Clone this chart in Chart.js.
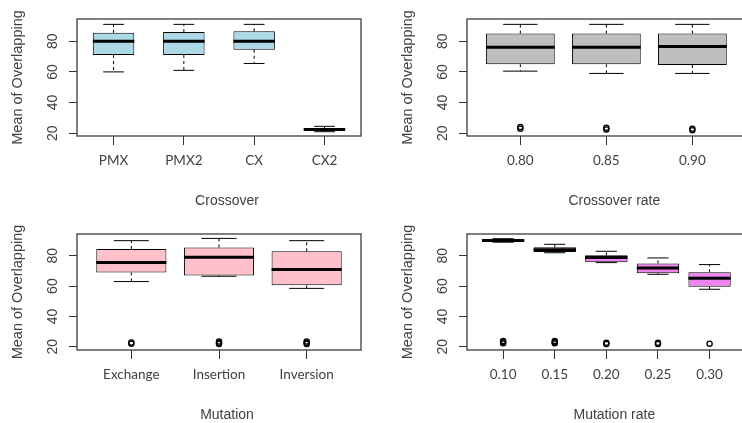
<!DOCTYPE html>
<html>
<head>
<meta charset="utf-8">
<script src="https://cdn.jsdelivr.net/npm/chart.js@4.4.1/dist/chart.umd.min.js"></script>
<style>
  html, body { margin: 0; padding: 0; background: #fff; overflow: hidden; width: 742px; height: 423px; }
  .panel { position: absolute; }
</style>
</head>
<body>
<div class="panel" style="left:0;top:0"><canvas id="chart-1" width="371" height="211"></canvas></div>
<div class="panel" style="left:371px;top:0"><canvas id="chart-2" width="380" height="211"></canvas></div>
<div class="panel" style="left:0;top:211px"><canvas id="chart-3" width="371" height="212"></canvas></div>
<div class="panel" style="left:371px;top:211px"><canvas id="chart-4" width="380" height="212"></canvas></div>
<script>
//////////////////////////////////////////////// data
// Crossover
const crossLabels = ['PMX', 'PMX2', 'CX', 'CX2'];
const crossLow  = [60, 61, 65.5, 21];
const crossQ1   = [71, 71, 74.5, 22];
const crossMed  = [80, 80, 80, 22.5];
const crossQ3   = [85.5, 86, 86.5, 23.2];
const crossHigh = [91, 91, 91, 24.5];
const crossOut  = [[], [], [], []];

// Crossover rate
const rateLabels = ['0.80', '0.85', '0.90'];
const rateLow  = [60.5, 59, 59];
const rateQ1   = [65, 65, 64.5];
const rateMed  = [76, 76, 76.5];
const rateQ3   = [85, 85, 85];
const rateHigh = [91, 91, 91];
const rateOut  = [[23, 24], [22.5, 23.5], [22, 23]];

// Mutation
const mutLabels = ['Exchange', 'Insertion', 'Inversion'];
const mutLow  = [63, 66.5, 58.5];
const mutQ1   = [69, 67, 60.5];
const mutMed  = [75.5, 79, 71];
const mutQ3   = [84.5, 85.5, 83];
const mutHigh = [90, 91.5, 90];
const mutOut  = [[22, 22.8], [21.8, 22.6, 23.4], [21.8, 22.6, 23.4]];

// Mutation rate
const mrLabels = ['0.10', '0.15', '0.20', '0.25', '0.30'];
const mrLow  = [89, 82, 75.5, 67.8, 57.9];
const mrQ1   = [89.6, 82.5, 75.7, 68.4, 59.6];
const mrMed  = [90.1, 84, 78.8, 72, 65.1];
const mrQ3   = [90.6, 85.6, 80.3, 75, 69.1];
const mrHigh = [91.3, 87.6, 83, 78.6, 74.2];
const mrOut  = [[22.2, 23, 23.8], [22.2, 23, 23.8], [21.8, 22.6], [21.8, 22.6], [22]];

const yTicks = [20, 30, 40, 50, 60, 70, 80, 90];
const textColor = '#404040';

//////////////////////////////////////////////// whiskers, medians, frame, x title
const boxPlugin = {
    id: 'boxplot',
    afterDatasetsDraw(chart) {
        const st = chart.options.plugins.boxplot;
        const {ctx, chartArea: a, scales: {x, y}} = chart;
        const bars = chart.getDatasetMeta(0).data;
        const seg = (x1, y1, x2, y2) => {
            ctx.beginPath(); ctx.moveTo(x1, y1); ctx.lineTo(x2, y2); ctx.stroke();
        };
        ctx.save();
        ctx.strokeStyle = '#000';
        bars.forEach((bar, i) => {
            const cx = x.getPixelForValue(i);
            const hw = bar.width / 2;
            const yLo = y.getPixelForValue(st.low[i]);
            const yHi = y.getPixelForValue(st.high[i]);
            ctx.lineWidth = 1;
            ctx.setLineDash([3, 3]);
            seg(cx, y.getPixelForValue(st.q3[i]), cx, yHi);
            seg(cx, y.getPixelForValue(st.q1[i]), cx, yLo);
            ctx.setLineDash([]);
            seg(cx - hw / 2, yHi, cx + hw / 2, yHi);
            seg(cx - hw / 2, yLo, cx + hw / 2, yLo);
            ctx.lineWidth = 3;
            const ym = y.getPixelForValue(st.med[i]);
            seg(cx - hw, ym, cx + hw, ym);
        });
        ctx.strokeStyle = '#3c3c3c';
        ctx.lineWidth = 1.3;
        ctx.strokeRect(a.left, a.top, a.width, a.height);
        ctx.font = '14px "Liberation Sans", Arial, sans-serif';
        ctx.fillStyle = textColor;
        ctx.textAlign = 'center';
        ctx.textBaseline = 'alphabetic';
        ctx.fillText(st.title, (a.left + a.right) / 2 + 8, st.titleY);
        ctx.restore();
    }
};

function boxChart(id, labels, low, q1, med, q3, high, outl, color, opt) {
    const n = labels.length;
    const boxes = labels.map((_, i) => ({x: i, y: [q1[i], q3[i]]}));
    const pts = [];
    outl.forEach((arr, i) => arr.forEach(v => pts.push({x: i, y: v})));

    new Chart(document.getElementById(id), {
        type: 'bar',
        data: {
            datasets: [{
                data: boxes,
                backgroundColor: color,
                borderColor: '#000',
                borderWidth: 1,
                borderSkipped: false,
                barPercentage: opt.boxw,
                categoryPercentage: 1
            }, {
                type: 'scatter',
                data: pts,
                pointRadius: 2.6,
                pointBorderWidth: 1.3,
                borderColor: '#000',
                backgroundColor: 'rgba(0,0,0,0)'
            }]
        },
        options: {
            responsive: false,
            animation: false,
            layout: { padding: { left: 0, right: opt.padR, top: opt.padT, bottom: 0 } },
            plugins: {
                legend: { display: false },
                tooltip: { enabled: false },
                boxplot: { low, q1, med, q3, high, title: opt.title, titleY: opt.titleY }
            },
            scales: {
                x: {
                    type: 'linear',
                    offset: false,
                    min: -0.5 - opt.ext,
                    max: n - 0.5 + opt.ext,
                    afterBuildTicks: s => { s.ticks = labels.map((_, i) => ({value: i})); },
                    afterFit: s => { s.height = opt.xh; },
                    ticks: {
                        autoSkip: false,
                        maxRotation: 0,
                        padding: 8,
                        color: textColor,
                        font: { family: 'Lato', size: 13.5 },
                        callback: v => labels[v]
                    },
                    grid: { offset: false, drawOnChartArea: false, tickLength: 9, color: '#333' },
                    border: { display: false }
                },
                y: {
                    min: opt.ymin,
                    max: opt.ymax,
                    afterBuildTicks: s => { s.ticks = yTicks.map(v => ({value: v})); },
                    afterFit: s => { s.width = opt.yw; },
                    ticks: {
                        minRotation: 90,
                        maxRotation: 90,
                        crossAlign: 'center',
                        padding: 8,
                        color: textColor,
                        font: { family: 'Liberation Sans', size: 14 },
                        callback: v => (v % 20 === 0 ? v : '')
                    },
                    grid: { drawOnChartArea: false, tickLength: 8, color: '#333' },
                    border: { display: false },
                    title: {
                        display: true,
                        text: 'Mean of Overlapping',
                        color: textColor,
                        font: { family: 'Liberation Sans', size: 14.5 },
                        padding: { top: opt.titleTop, bottom: 0 }
                    }
                }
            }
        },
        plugins: [boxPlugin]
    });
}

//////////////////////////////////////////////// Chart-1
boxChart('chart-1', crossLabels, crossLow, crossQ1, crossMed, crossQ3, crossHigh, crossOut, '#ADD8E6',
    { boxw: 0.59, ext: 0.02, padR: 10, padT: 19, xh: 75, yw: 77, ymin: 18.2, ymax: 94.5,
      titleTop: 9, title: 'Crossover', titleY: 205 });

//////////////////////////////////////////////// Chart-2
boxChart('chart-2', rateLabels, rateLow, rateQ1, rateMed, rateQ3, rateHigh, rateOut, '#BEBEBE',
    { boxw: 0.8, ext: 0.12, padR: 2, padT: 19, xh: 75, yw: 96, ymin: 18.2, ymax: 94.5,
      titleTop: 28, title: 'Crossover rate', titleY: 205 });

//////////////////////////////////////////////// Chart-3
boxChart('chart-3', mutLabels, mutLow, mutQ1, mutMed, mutQ3, mutHigh, mutOut, '#FFC0CB',
    { boxw: 0.8, ext: 0.12, padR: 10, padT: 23, xh: 73, yw: 77, ymin: 17.8, ymax: 94.4,
      titleTop: 9, title: 'Mutation', titleY: 208 });

//////////////////////////////////////////////// Chart-4
boxChart('chart-4', mrLabels, mrLow, mrQ1, mrMed, mrQ3, mrHigh, mrOut, '#EE82EE',
    { boxw: 0.82, ext: 0.2, padR: 2, padT: 23, xh: 73, yw: 96, ymin: 17.8, ymax: 94.4,
      titleTop: 28, title: 'Mutation rate', titleY: 208 });
</script>
</body>
</html>
